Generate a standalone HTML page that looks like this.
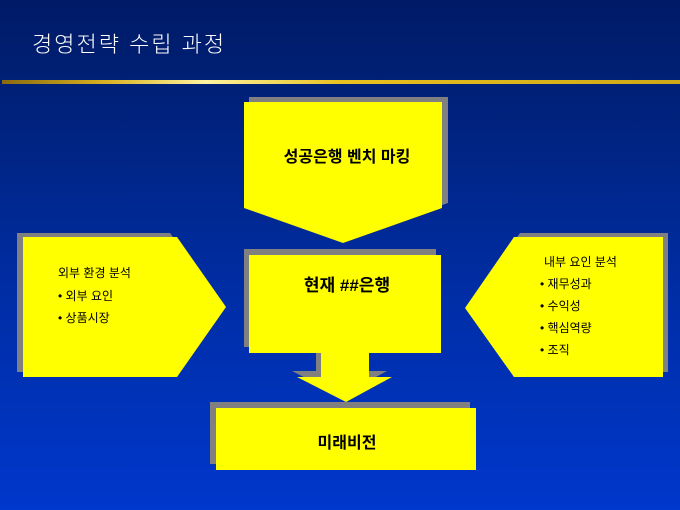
<!DOCTYPE html>
<html><head><meta charset="utf-8"><style>
html,body{margin:0;padding:0}
body{width:680px;height:510px;overflow:hidden;background:linear-gradient(180deg,#001a66 0%,#00237f 25%,#002ea8 60%,#0037cc 100%);font-family:"Liberation Sans","Noto Sans CJK KR","NanumGothic",sans-serif}
svg{position:absolute;left:0;top:0}
</style></head><body>
<svg width="680" height="510" viewBox="0 0 680 510">
<defs><linearGradient id="g" x1="0" x2="1" y1="0" y2="0">
<stop offset="0" stop-color="#8a6a10"/><stop offset="0.15" stop-color="#d9b020"/><stop offset="0.3" stop-color="#fff3a0"/><stop offset="0.5" stop-color="#e8c020"/><stop offset="1" stop-color="#d0a818"/></linearGradient></defs>
<rect x="2" y="80" width="678" height="4" fill="url(#g)"/>
<text x="32" y="52" font-size="22" fill="#fff" letter-spacing="2" font-family="Liberation Sans,Noto Sans CJK KR,sans-serif" font-weight="300">경영전략 수립 과정</text>
<!-- top -->
<polygon points="249,97 448,97 448,203 348,238 249,203" fill="#808080"/>
<polygon points="244,102 442,102 442,208 343,243 244,208" fill="#ffff00"/>
<text x="347" y="162" font-size="16" text-anchor="middle" fill="#000" font-weight="bold">성공은행 벤치 마킹</text>
<!-- left -->
<polygon points="17,233 170,233 220,302 170,372 17,372" fill="#808080"/>
<polygon points="23,237 177,237 226,307 177,377 23,377" fill="#ffff00"/>
<g font-size="12" fill="#000">
<text x="58" y="277">외부 환경 분석</text>
<text x="58" y="300">• 외부 요인</text>
<text x="58" y="322">• 상품시장</text>
</g>
<!-- right -->
<polygon points="470,303 520,233 668,233 668,372 520,372" fill="#808080"/>
<polygon points="465,308 514,237 663,237 663,377 514,377" fill="#ffff00"/>
<g font-size="12" fill="#000">
<text x="544" y="266">내부 요인 분석</text>
<text x="540" y="288">• 재무성과</text>
<text x="540" y="310">• 수익성</text>
<text x="540" y="332">• 핵심역량</text>
<text x="540" y="354">• 조직</text>
</g>
<!-- center -->
<rect x="244" y="249" width="192" height="98" fill="#808080"/>
<polygon points="316,347 364,347 364,371 387,371 341,396 292,371 316,371" fill="#808080"/>
<rect x="249" y="255" width="192" height="98" fill="#ffff00"/>
<polygon points="321,353 369,353 369,377 392,377 346,402 297,377 321,377" fill="#ffff00"/>
<text x="347" y="291" font-size="17" text-anchor="middle" fill="#000" font-weight="bold">현재 ##은행</text>
<!-- bottom -->
<rect x="210" y="402" width="260" height="62" fill="#808080"/>
<rect x="216" y="408" width="260" height="62" fill="#ffff00"/>
<text x="347" y="448" font-size="16" text-anchor="middle" fill="#000" font-weight="bold">미래비전</text>
</svg>
</body></html>
